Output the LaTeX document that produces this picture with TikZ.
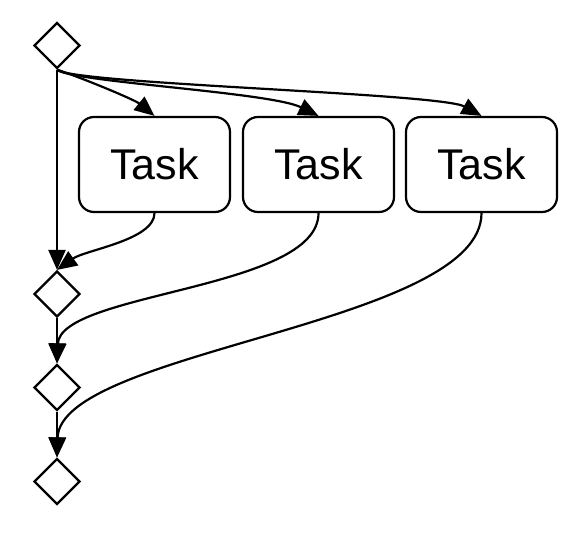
\documentclass[tikz,border=0pt]{standalone}
\usepackage{fontspec}
\setmainfont{Liberation Sans}
\usetikzlibrary{shapes.geometric,arrows.meta}
\begin{document}
\begin{tikzpicture}[x=1pt,y=-1pt,line width=2.2pt,
  gate/.style={draw,diamond,aspect=1,minimum width=46pt,minimum height=46pt,inner sep=0pt},
  task/.style={draw,rounded corners=15pt,minimum width=151pt,minimum height=95pt,inner sep=0pt,font=\fontsize{43}{50}\selectfont},
  arr/.style={-{Triangle[length=20pt,width=17pt]}}]
\useasboundingbox (0,0) rectangle (580,532);
\node[gate] (d1) at (57,45.5) {};
\node[gate] (d2) at (57,294) {};
\node[gate] (d3) at (57,387.5) {};
\node[gate] (d4) at (57,481.5) {};
\node[task] (t1) at (154.5,164.5) {Task};
\node[task] (t2) at (318.5,164.5) {Task};
\node[task] (t3) at (481.5,164.5) {Task};
\draw[arr] (d1.south) -- (d2.north);
\draw[arr] (d2.south) -- (d3.north);
\draw[arr] (d3.south) -- (d4.north);
\draw[arr] (d1.south) .. controls (85,79) and (135,100) .. (t1.north);
\draw[arr] (d1.south) .. controls (70,82) and (270,92) .. (t2.north);
\draw[arr] (d1.south) .. controls (70,84) and (440,93) .. (t3.north);
\draw[arr] (t1.south) .. controls (154.5,240) and (85,250) .. (d2.north);
\draw[arr] (t2.south) .. controls (318.5,290) and (60,292) .. (d3.north);
\draw[arr] (t3.south) .. controls (481.5,325) and (60,350) .. (d4.north);
\end{tikzpicture}
\end{document}
